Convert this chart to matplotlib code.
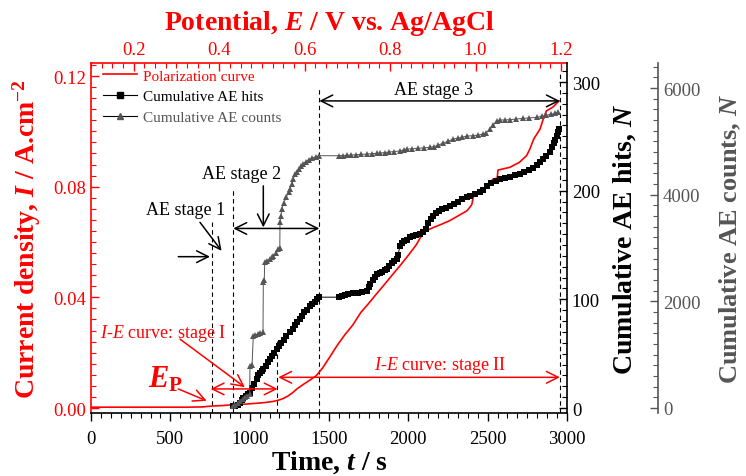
import matplotlib
matplotlib.use('Agg')
import matplotlib.pyplot as plt
from matplotlib.ticker import MultipleLocator, FixedLocator, FormatStrFormatter
from matplotlib.lines import Line2D

plt.rcParams['font.family'] = ['Liberation Serif', 'DejaVu Serif']
plt.rcParams['mathtext.fontset'] = 'custom'
plt.rcParams['mathtext.rm'] = 'Liberation Serif:bold'
plt.rcParams['mathtext.it'] = 'Liberation Serif:italic:bold'
plt.rcParams['mathtext.bf'] = 'Liberation Serif:bold'
plt.rcParams['mathtext.sf'] = 'Liberation Serif:italic'

RED = '#ff0000'
GRAY = '#555555'

# ---------------- data ----------------
pol_time = [0, 100, 200, 300, 400, 500, 600, 700, 760, 830, 900, 970, 1040, 1100,
            1150, 1180, 1210, 1240, 1270, 1300, 1340, 1380, 1420, 1460, 1500, 1550,
            1600, 1650, 1700, 1750, 1800, 1850, 1900, 1950, 2000, 2050, 2080, 2095,
            2130, 2160, 2200, 2260, 2300, 2370, 2400, 2410, 2450, 2490, 2535, 2560,
            2565, 2640, 2700, 2745, 2766, 2790, 2830, 2850, 2870, 2910, 2950]
pol_current = [0.0003, 0.0003, 0.0003, 0.0003, 0.0003, 0.0003, 0.0003, 0.0004, 0.0007,
               0.0009, 0.0012, 0.0014, 0.0017, 0.0020, 0.0024, 0.0028, 0.0034, 0.0043,
               0.0055, 0.0070, 0.0086, 0.0101, 0.0117, 0.0145, 0.0180, 0.0225, 0.0265,
               0.0300, 0.0345, 0.0378, 0.0413, 0.0447, 0.0482, 0.0516, 0.0552, 0.0590,
               0.0620, 0.0635, 0.0645, 0.0653, 0.0662, 0.0677, 0.0690, 0.0713, 0.0735,
               0.0765, 0.0780, 0.0798, 0.0828, 0.0830, 0.0860, 0.0870, 0.0888, 0.0912,
               0.0936, 0.0972, 0.1008, 0.1044, 0.1074, 0.1087, 0.1110]

hits_time = [897, 910, 925, 939, 950, 960, 975, 990, 1002, 1015, 1030, 1044, 1055, 1065,
             1075, 1086, 1100, 1115, 1128, 1140, 1155, 1170, 1185, 1200, 1215, 1230,
             1254, 1270, 1285, 1300, 1317, 1330, 1345, 1360, 1380, 1395, 1410, 1425,
             1439, 1560, 1580, 1600, 1620, 1650, 1680, 1710, 1737, 1750, 1758, 1775,
             1790, 1805, 1820, 1835, 1850, 1863, 1880, 1895, 1910, 1926, 1935, 1947,
             1960, 1975, 1990, 2010, 2030, 2050, 2075, 2094, 2110, 2125, 2140, 2157,
             2175, 2195, 2215, 2240, 2262, 2285, 2310, 2340, 2367, 2390, 2420, 2451,
             2470, 2493, 2520, 2550, 2577, 2610, 2640, 2670, 2703, 2730, 2760, 2787,
             2810, 2830, 2850, 2870, 2890, 2903, 2915, 2925, 2934, 2943, 2951]
hits = [2, 2, 3, 5, 7, 9, 11, 13, 14, 18, 22, 27, 30, 32, 34, 36, 39, 42, 45, 48, 51,
        54, 57, 60, 63, 66, 70, 73, 76, 79, 82, 85, 88, 90, 94, 96, 98, 100, 102, 102,
        103, 104, 105, 106, 106, 107, 108, 111, 114, 118, 121, 123, 124, 125, 127, 128,
        131, 133, 135, 137, 141, 149, 152, 154, 155, 157, 158, 159, 160, 162, 165, 170,
        174, 177, 179, 181, 183, 184, 186, 188, 190, 192, 194, 195, 197, 199, 201, 204,
        207, 209, 211, 212, 213, 214, 215, 217, 219, 221, 224, 226, 229, 232, 236, 240,
        244, 247, 250, 254, 257]

counts_time = [897, 910, 925, 940, 955, 970, 985, 1000, 1002, 1015, 1023, 1035, 1050,
               1065, 1084, 1086, 1092, 1095, 1110, 1125, 1140, 1150, 1165, 1181, 1190,
               1191, 1197, 1202, 1215, 1230, 1245, 1254, 1265, 1275, 1285, 1296, 1310,
               1325, 1338, 1355, 1375, 1395, 1415, 1439, 1565, 1590, 1611, 1640, 1670,
               1700, 1737, 1770, 1800, 1821, 1850, 1880, 1910, 1947, 1970, 1989, 2020,
               2060, 2100, 2136, 2160, 2190, 2220, 2250, 2283, 2310, 2340, 2370, 2409,
               2440, 2472, 2490, 2514, 2535, 2556, 2580, 2610, 2640, 2680, 2720, 2760,
               2808, 2840, 2870, 2900, 2925, 2945]
counts = [40, 60, 90, 130, 170, 200, 230, 260, 793, 800, 1356, 1370, 1380, 1400, 1420,
          2357, 2400, 2731, 2760, 2790, 2830, 2856, 2900, 2981, 3000, 3482, 3600, 3731,
          3850, 3950, 4050, 4106, 4200, 4300, 4380, 4419, 4480, 4530, 4575, 4620, 4660,
          4690, 4710, 4731, 4731, 4735, 4740, 4745, 4750, 4755, 4763, 4770, 4775, 4780,
          4790, 4800, 4810, 4820, 4840, 4856, 4860, 4870, 4880, 4888, 4900, 4930, 4970,
          5000, 5044, 5060, 5080, 5100, 5106, 5120, 5138, 5160, 5231, 5300, 5387, 5400,
          5403, 5406, 5420, 5430, 5440, 5450, 5470, 5490, 5510, 5525, 5544]

time_ticks = [0, 500, 1000, 1500, 2000, 2500, 3000]
current_ticks = [0.00, 0.04, 0.08, 0.12]
potential_ticks = [0.2, 0.4, 0.6, 0.8, 1.0, 1.2]
hits_ticks = [0, 100, 200, 300]
counts_ticks = [0, 2000, 4000, 6000]
stage_bounds = [760, 897, 1174, 1439, 2955]

# ---------------- figure ----------------
W, H = 746, 477
L, R, T, B = 91, 567, 64, 414
fig = plt.figure(figsize=(W / 100, H / 100), dpi=100)
ax = fig.add_axes([L / W, (H - B) / H, (R - L) / W, (B - T) / H])
axt = ax.twiny()
axh = ax.twinx()
axc = ax.twinx()

ax.plot(pol_time, pol_current, color=RED, lw=1.2, zorder=3)
axh.plot(hits_time, hits, color='black', lw=0.7, marker='s', ms=4.2, mew=0,
         zorder=3)
axc.plot(counts_time, counts, color=GRAY, lw=0.7, marker='^', ms=5.0, mew=0,
         zorder=3)

ax.set_xlim(0, 3000)
ax.set_ylim(-0.0018, 0.1247)
axt.set_xlim(0.1, 1.214)
axh.set_ylim(-4.6, 317.5)
axc.set_ylim(-94, 6470)

TS = 13.5
# left / bottom
ax.xaxis.set_major_locator(FixedLocator(time_ticks))
ax.xaxis.set_minor_locator(MultipleLocator(62.5))
ax.yaxis.set_major_locator(FixedLocator(current_ticks))
ax.yaxis.set_minor_locator(MultipleLocator(0.004))
ax.yaxis.set_major_formatter(FormatStrFormatter('%.2f'))
ax.tick_params(axis='x', which='both', direction='out', colors='black', labelsize=TS,
               top=False, pad=6)
ax.tick_params(axis='x', which='major', length=6, width=1)
ax.tick_params(axis='x', which='minor', length=3.5, width=0.8)
ax.tick_params(axis='y', which='both', direction='in', colors=RED, labelsize=TS,
               right=False)
ax.tick_params(axis='y', which='major', length=6, width=1)
ax.tick_params(axis='y', which='minor', length=3.5, width=0.8)
ax.spines['left'].set_color(RED)
ax.spines['left'].set_linewidth(1.2)
ax.spines['bottom'].set_linewidth(1.2)
ax.spines['top'].set_visible(False)
ax.spines['right'].set_visible(False)

# top
axt.xaxis.set_major_locator(FixedLocator(potential_ticks))
axt.xaxis.set_minor_locator(MultipleLocator(0.025))
axt.xaxis.set_major_formatter(FormatStrFormatter('%.1f'))
axt.tick_params(axis='x', which='both', direction='in', colors=RED, labelsize=TS)
axt.tick_params(axis='x', which='major', length=6, width=1)
axt.tick_params(axis='x', which='minor', length=3.5, width=0.8)
for s in ['left', 'right', 'bottom']:
    axt.spines[s].set_visible(False)
axt.spines['top'].set_color(RED)
axt.spines['top'].set_linewidth(1.2)

# hits axis
axh.yaxis.set_major_locator(FixedLocator(hits_ticks))
axh.yaxis.set_minor_locator(MultipleLocator(10))
axh.tick_params(axis='y', which='both', direction='in', colors='black', labelsize=TS)
axh.tick_params(axis='y', which='major', length=6, width=1)
axh.tick_params(axis='y', which='minor', length=3.5, width=0.8)
for s in ['left', 'top', 'bottom']:
    axh.spines[s].set_visible(False)
axh.spines['right'].set_linewidth(1.2)

# counts axis
axc.spines['right'].set_position(('axes', 1.191))
axc.spines['right'].set_color(GRAY)
axc.spines['right'].set_linewidth(1.2)
for s in ['left', 'top', 'bottom']:
    axc.spines[s].set_visible(False)
axc.yaxis.set_major_locator(FixedLocator(counts_ticks))
axc.yaxis.set_minor_locator(MultipleLocator(200))
axc.tick_params(axis='y', which='both', direction='in', colors=GRAY, labelsize=TS)
axc.tick_params(axis='y', which='major', length=6, width=1)
axc.tick_params(axis='y', which='minor', length=3.5, width=0.8)

# labels
LS = 20
ax.set_xlabel(r'Time, $t$ / s', fontsize=LS, fontweight='bold', labelpad=1)
ax.set_ylabel(r'Current density, $I$ / A.cm$^{-2}$', fontsize=LS, fontweight='bold',
              color=RED)
ax.yaxis.set_label_coords(-0.10, 0.5)
axt.set_xlabel(r'Potential, $E$ / V vs. Ag/AgCl', fontsize=LS, fontweight='bold',
               color=RED, labelpad=9)
axh.set_ylabel(r'Cumulative AE hits, $N$', fontsize=LS, fontweight='bold',
               color='black')
axh.yaxis.set_label_coords(1.094, 0.5)
axc.set_ylabel(r'Cumulative AE counts, $N$', fontsize=19, fontweight='bold',
               color=GRAY)
axc.yaxis.set_label_coords(1.317, 0.5)

# dashed stage boundaries
dash = (0, (4, 3))
stage_tops = [0.0672, 0.079, 0.0243, 0.1153, 0.1207]
for tb, top in zip(stage_bounds, stage_tops):
    ax.plot([tb, tb], [-0.0018, top], color='black', lw=0.8, ls=dash, zorder=2)

# annotations (drawn on top-most axes, in left-axis data coords)
td = ax.transData
AF = 13
def arrow(x0, y0, x1, y1, color='black', style='->'):
    axc.annotate('', xy=(x1, y1), xycoords=td, xytext=(x0, y0), textcoords=td,
                 arrowprops=dict(arrowstyle=style + ',head_length=0.6,head_width=0.3',
                                 color=color, lw=1.1, shrinkA=0, shrinkB=0,
                                 mutation_scale=14))

axc.text(2161, 0.115, 'AE stage 3', transform=td, ha='center', va='center', fontsize=AF)
arrow(1439, 0.111, 2955, 0.111, style='<->')
axc.text(950, 0.0846, 'AE stage 2', transform=td, ha='center', va='center', fontsize=AF)
arrow(1086, 0.0803, 1086, 0.0653)
arrow(897, 0.0649, 1439, 0.0649, style='<->')
axc.text(597, 0.0717, 'AE stage 1', transform=td, ha='center', va='center', fontsize=AF)
arrow(687, 0.0671, 823, 0.0568)
arrow(550, 0.0547, 750, 0.0547)

axc.text(451, 0.0273, r'$\mathsf{I}$-$\mathsf{E}$ curve: stage I', transform=td,
         ha='center', va='center', fontsize=AF, color=RED)
arrow(561, 0.0249, 970, 0.0075, color=RED)
arrow(754, 0.0069, 1176, 0.0069, color=RED, style='<->')
axc.text(470, 0.0105, r'$E_\mathrm{P}$', transform=td, ha='center', va='center',
         fontsize=22, color=RED)
arrow(550, 0.0069, 729, 0.0026, color=RED)
axc.text(2199, 0.0159, r'$\mathsf{I}$-$\mathsf{E}$ curve: stage II', transform=td,
         ha='center', va='center', fontsize=AF, color=RED)
arrow(1180, 0.0111, 2955, 0.0111, color=RED, style='<->')

# legend
handles = [Line2D([], [], color=RED, lw=1.2),
           Line2D([], [], color='black', lw=0.8, marker='s', ms=3.8),
           Line2D([], [], color='black', lw=0.8, marker='^', ms=4.8, mfc=GRAY, mec=GRAY)]
labels = ['Polarization curve', 'Cumulative AE hits', 'Cumulative AE counts']
leg = axc.legend(handles, labels, loc='upper left', bbox_to_anchor=(0.013, 1.0),
                 frameon=False, fontsize=11, handlelength=2.2, handletextpad=0.4,
                 labelspacing=0.45, borderaxespad=0.1, borderpad=0.3, numpoints=1)
for txt, c in zip(leg.get_texts(), [RED, 'black', GRAY]):
    txt.set_color(c)

fig.savefig('out.png', dpi=100)
